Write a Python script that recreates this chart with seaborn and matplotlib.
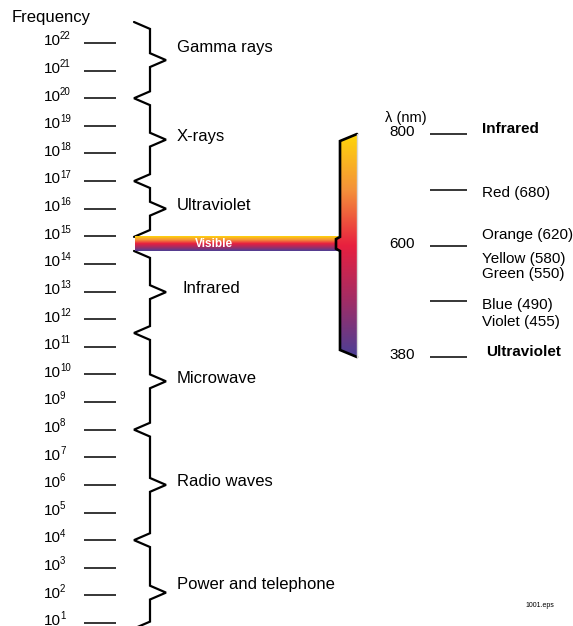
import numpy as np
import pandas as pd
import matplotlib
matplotlib.use("Agg")
import matplotlib.pyplot as plt
from matplotlib.patches import Polygon
import seaborn as sns

# -------------------- Data -------------------- #
freq_exponents = list(range(22, 0, -1))   # 10^22 ... 10^1 Hz

region_names = ["Gamma rays", "X-rays", "Ultraviolet", "Infrared",
                "Microwave", "Radio waves", "Power and telephone"]
region_peaks = [21.38, 18.5, 16.0, 12.98, 9.75, 6.0, 2.1]   # log10(Hz) where brace points right
upper_edges = [22.76, 20, 17, 14.98]      # brace tips above the visible band
lower_edges = [14.47, 11.5, 8, 4, 0.8]    # brace tips below it
visible_band = [14.47, 14.98]

wl_ticks = [800, 680, 600, 490, 380]      # nm, lines on the visible scale
wl_tick_labels = ["800", "", "600", "", "380"]
end_names = ["Infrared", "Ultraviolet"]
end_wl = [800, 380]
colour_names = ["Red", "Orange", "Yellow", "Green", "Blue", "Violet"]
colour_wl = [680, 620, 580, 550, 490, 455]
spectrum_colours = ["#FFD60A", "#F4913A", "#E8203F", "#A02D66", "#4B3F96"]

# -------------------- Style -------------------- #
sns.set_theme(style="white")
plt.rcParams["font.family"] = ["Liberation Sans", "DejaVu Sans"]
plt.rcParams["text.color"] = "black"

fig = plt.figure(figsize=(5.73, 6.26), dpi=100)
ax = fig.add_axes([0, 0, 1, 1])
ax.set_xlim(0, 573)
ax.set_ylim(0.891, 23.557)
ax2 = ax.twinx()
ax2.set_ylim(8.825, -2.404)
for a in (ax, ax2):
    a.axis("off")

spec_cmap = sns.blend_palette(spectrum_colours, as_cmap=True)
grad = np.linspace(0, 1, 256).reshape(-1, 1)

# -------------------- Frequency scale -------------------- #
ax.text(12, 22.94, "Frequency", fontsize=12, ha="left", va="center")
ax.hlines(freq_exponents, 84, 116, color="black", lw=1.1)
for e in freq_exponents:
    ax.text(44, e + 0.06, "10", fontsize=11, ha="left", va="center")
    ax.annotate(str(e), xy=(60, e + 0.06), xytext=(0, 3.5), textcoords="offset points",
                fontsize=7, ha="left", va="center")

# -------------------- Brace -------------------- #
def brace_points(edges, peaks, h=0.25):
    xs, ys = [134], [edges[0]]
    for i, p in enumerate(peaks):
        xs += [150, 150, 166, 150, 150, 134]
        ys += [edges[i] - h, p + h, p, p - h, edges[i + 1] + h, edges[i + 1]]
    return xs, ys

n_up = len(upper_edges) - 1
xs1, ys1 = brace_points(upper_edges, region_peaks[:n_up])
xs2, ys2 = brace_points(lower_edges, region_peaks[n_up:])
brace = pd.DataFrame({
    "x": xs1 + xs2,
    "y": ys1 + ys2,
    "piece": [0] * len(xs1) + [1] * len(xs2),
})
sns.lineplot(data=brace, x="x", y="y", units="piece", estimator=None, sort=False,
             color="black", lw=1.6, solid_joinstyle="miter", ax=ax)

text_x = {"Infrared": 183}
text_nudge = {"Gamma rays": 0.45, "Power and telephone": 0.3}
for name, p in zip(region_names, region_peaks):
    ax.text(text_x.get(name, 177), p + text_nudge.get(name, 0.12), name,
            fontsize=12, ha="left", va="center")

# -------------------- Visible band -------------------- #
ax.imshow(grad, cmap=spec_cmap, aspect="auto", origin="upper",
          extent=[135, 338, visible_band[0], visible_band[1]], zorder=3)
ax.text(214, np.mean(visible_band), "Visible", color="white", fontsize=8.5,
        fontweight="bold", ha="center", va="center", zorder=4)

# -------------------- Visible scale -------------------- #
ax.set_xlim(0, 573)
ax.set_ylim(0.891, 23.557)
slots = np.arange(len(wl_ticks))

def to_slot(e):
    pix = ax.transData.transform((0, e))[1]
    return ax2.transData.inverted().transform((0, pix))[1]

nt, nb = to_slot(visible_band[1]), to_slot(visible_band[0])
top, bot = slots[0], slots[-1]
inset = 0.126
outline = [(357, top), (340, top + inset), (340, nt), (336, nt + 0.04),
           (336, nb - 0.04), (340, nb), (340, bot - inset), (357, bot)]
clip = Polygon(outline, closed=True, transform=ax2.transData, fill=False, lw=0)
ax2.add_patch(clip)
im = ax2.imshow(grad, cmap=spec_cmap, aspect="auto", origin="upper",
                extent=[336, 357, bot, top], zorder=2)
im.set_clip_path(clip)
ax2.plot([p[0] for p in outline], [p[1] for p in outline], color="black",
         lw=1.9, solid_joinstyle="miter", zorder=3)
ax2.plot([357, 357], [top, bot], color="#d8d8d8", lw=1, zorder=3)

ax2.hlines(slots, 430, 467, color="black", lw=1.1)
ax2.text(406, -0.29, "\u03bb (nm)", fontsize=10.5, ha="center", va="center")
for s, lab in zip(slots, wl_tick_labels):
    if lab:
        ax2.text(415, s - 0.03, lab, fontsize=11, ha="right", va="center")

wl_asc, slot_asc = wl_ticks[::-1], slots[::-1]
for name, wl, x in zip(end_names, end_wl, [482, 486]):
    s = np.interp(wl, wl_asc, slot_asc)
    ax2.text(x, s - 0.09, name, fontsize=11, fontweight="bold", ha="left", va="center")
for name, wl in zip(colour_names, colour_wl):
    s = np.interp(wl, wl_asc, slot_asc)
    ax2.text(482, s + 0.06, f"{name} ({wl})", fontsize=11, ha="left", va="center")

ax2.set_ylim(8.825, -2.404)
ax.text(540, 1.65, "1001.eps", fontsize=5, ha="center", va="center")

fig.savefig("out.png", dpi=100)
